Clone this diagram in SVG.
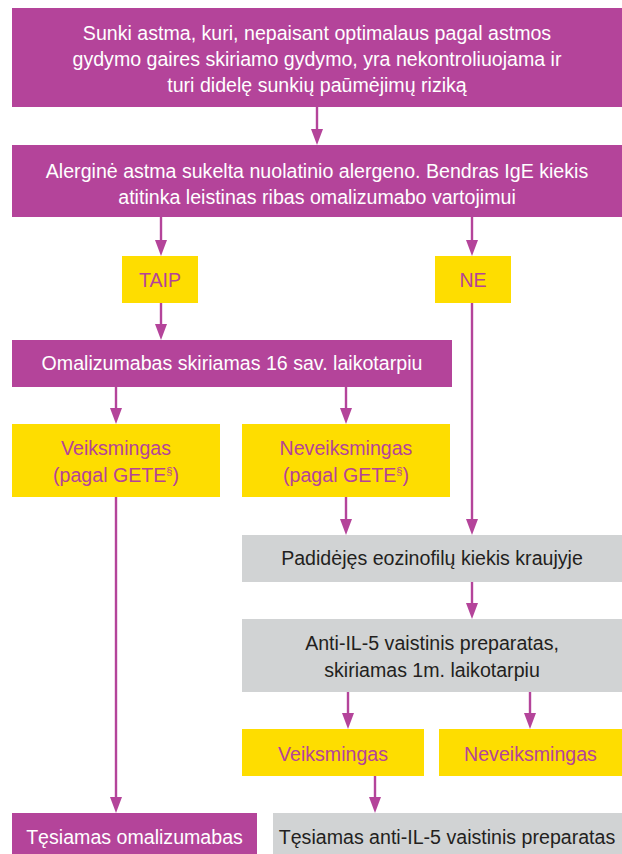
<svg xmlns="http://www.w3.org/2000/svg" width="622" height="854" viewBox="0 0 622 854">
<defs>
<marker id="ah" viewBox="0 0 16 12" refX="2" refY="6" markerWidth="16" markerHeight="12" markerUnits="userSpaceOnUse" orient="auto">
<path d="M0,0 L16,6 L0,12 z" fill="#B4449A"/>
</marker>
</defs>
<style>
.p{fill:#B4449A}
.y{fill:#FEDD00}
.g{fill:#D1D3D4}
text{font-family:"Liberation Sans",Arial,sans-serif;font-size:19.6px;text-anchor:middle}
.tw{fill:#FFFFFF}
.tp{fill:#B4449A}
.td{fill:#231F20}
.c{stroke:#B4449A;stroke-width:2.4;fill:none;marker-end:url(#ah)}
.sup{font-size:11px}
</style>
<rect width="622" height="854" fill="#FFFFFF"/>
<g id="n1"><rect class="p" x="12" y="8" width="610" height="99"/>
<text class="tw" x="317" y="40">Sunki astma, kuri, nepaisant optimalaus pagal astmos</text>
<text class="tw" x="317" y="66">gydymo gaires skiriamo gydymo, yra nekontroliuojama ir</text>
<text class="tw" x="317" y="92">turi didelę sunkių paūmėjimų riziką</text></g>
<g id="n2"><rect class="p" x="12" y="145" width="610" height="72"/>
<text class="tw" x="317" y="178">Alerginė astma sukelta nuolatinio alergeno. Bendras IgE kiekis</text>
<text class="tw" x="317" y="204">atitinka leistinas ribas omalizumabo vartojimui</text></g>
<g id="taip"><rect class="y" x="122" y="256" width="76" height="47"/>
<text class="tp" x="160" y="287">TAIP</text></g>
<g id="ne"><rect class="y" x="435" y="256" width="76" height="47"/>
<text class="tp" x="473" y="287">NE</text></g>
<g id="omal"><rect class="p" x="12" y="340" width="440" height="47"/>
<text class="tw" x="232" y="370">Omalizumabas skiriamas 16 sav. laikotarpiu</text></g>
<g id="veik1"><rect class="y" x="12" y="424" width="208" height="73"/>
<text class="tp" x="116" y="455">Veiksmingas</text>
<text class="tp" x="116" y="482">(pagal GETE<tspan class="sup" dy="-7">§</tspan><tspan dy="7">)</tspan></text></g>
<g id="neveik1"><rect class="y" x="242" y="424" width="208" height="73"/>
<text class="tp" x="346" y="455">Neveiksmingas</text>
<text class="tp" x="346" y="482">(pagal GETE<tspan class="sup" dy="-7">§</tspan><tspan dy="7">)</tspan></text></g>
<g id="eoz"><rect class="g" x="242" y="535" width="380" height="47"/>
<text class="td" x="432" y="565">Padidėjęs eozinofilų kiekis kraujyje</text></g>
<g id="anti"><rect class="g" x="242" y="619" width="380" height="73"/>
<text class="td" x="432" y="650">Anti-IL-5 vaistinis preparatas,</text>
<text class="td" x="432" y="677">skiriamas 1m. laikotarpiu</text></g>
<g id="veik2"><rect class="y" x="242" y="729" width="182" height="47"/>
<text class="tp" x="333" y="761">Veiksmingas</text></g>
<g id="neveik2"><rect class="y" x="439" y="729" width="183" height="47"/>
<text class="tp" x="530.5" y="761">Neveiksmingas</text></g>
<g id="tesom"><rect class="p" x="12" y="813" width="245" height="41"/>
<text class="tw" x="134.5" y="844">Tęsiamas omalizumabas</text></g>
<g id="tesanti"><rect class="g" x="273" y="813" width="349" height="41"/>
<text class="td" x="447" y="844">Tęsiamas anti-IL-5 vaistinis preparatas</text></g>
<g id="connectors">
<path class="c" d="M317,107 V131"/>
<path class="c" d="M161,217 V242"/>
<path class="c" d="M472,217 V242"/>
<path class="c" d="M161,303 V326"/>
<path class="c" d="M116,387 V410"/>
<path class="c" d="M346,387 V410"/>
<path class="c" d="M116,497 V799"/>
<path class="c" d="M346,497 V521"/>
<path class="c" d="M472,303 V521"/>
<path class="c" d="M472,582 V605"/>
<path class="c" d="M348,692 V715"/>
<path class="c" d="M530,692 V715"/>
<path class="c" d="M375,776 V799"/>
</g>
</svg>
